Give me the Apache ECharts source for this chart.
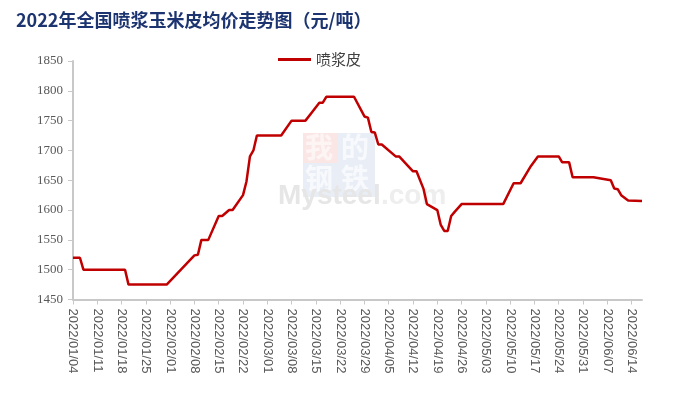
<!DOCTYPE html>
<html><head><meta charset="utf-8">
<script src="https://cdn.jsdelivr.net/npm/echarts@6/dist/echarts.min.js"></script>
<style>html,body{margin:0;padding:0;background:#fff}#c{width:700px;height:413px}</style>
</head><body><div id="c"></div>
<script>
// axis range (calendar days)
const startDate = [2022, 1, 4];
const endDate = [2022, 6, 17];
// observed price points (vertices of the line)
const pointDates = [
 '2022/01/04','2022/01/06','2022/01/07','2022/01/19','2022/01/20','2022/01/31',
 '2022/02/08','2022/02/09','2022/02/10','2022/02/12','2022/02/15','2022/02/16',
 '2022/02/18','2022/02/19','2022/02/22','2022/02/23','2022/02/24','2022/02/25',
 '2022/02/26','2022/03/05','2022/03/08','2022/03/12','2022/03/14','2022/03/16',
 '2022/03/17','2022/03/18','2022/03/26','2022/03/29','2022/03/30','2022/03/31',
 '2022/04/01','2022/04/02','2022/04/03','2022/04/07','2022/04/08','2022/04/12',
 '2022/04/13','2022/04/15','2022/04/16','2022/04/19','2022/04/20','2022/04/21',
 '2022/04/22','2022/04/23','2022/04/24','2022/04/26','2022/05/08','2022/05/11',
 '2022/05/13','2022/05/16','2022/05/18','2022/05/24','2022/05/25','2022/05/27',
 '2022/05/28','2022/06/03','2022/06/08','2022/06/09','2022/06/10','2022/06/11',
 '2022/06/13','2022/06/17'
];
const pointValues = [
 1520,1520,1500,1500,1475,1475,
 1524,1525,1550,1550,1590,1590,
 1600,1600,1625,1648,1690,1700,
 1725,1725,1750,1750,1765,1780,
 1780,1790,1790,1757,1755,1731,
 1730,1710,1710,1690,1690,1665,
 1665,1636,1610,1600,1575,1565,
 1565,1590,1597,1610,1610,1645,
 1645,1674,1690,1690,1680,1680,
 1655,1655,1650,1636,1635,1625,
 1616,1615
];
const seriesName = '喷浆皮';
const titleText = '2022年全国喷浆玉米皮均价走势图（元/吨）';
const yMin = 1450, yMax = 1850, yStep = 50;

function fmt(d){
  const m = String(d.getUTCMonth()+1).padStart(2,'0');
  const dd = String(d.getUTCDate()).padStart(2,'0');
  return d.getUTCFullYear()+'/'+m+'/'+dd;
}
const categories = [];
{
  let t = Date.UTC(startDate[0], startDate[1]-1, startDate[2]);
  const e = Date.UTC(endDate[0], endDate[1]-1, endDate[2]);
  for (; t <= e; t += 86400000) categories.push(fmt(new Date(t)));
}
const valueMap = {};
pointDates.forEach((d,i)=>{ valueMap[d] = pointValues[i]; });
const seriesData = categories.map(c => (c in valueMap) ? valueMap[c] : null);

const chart = echarts.init(document.getElementById('c'), null, {renderer:'canvas'});
chart.setOption({
  animation: false,
  backgroundColor: '#ffffff',
  title: {
    text: titleText, left: 11, top: 6,
    textStyle: {fontFamily: 'Noto Sans CJK SC', fontSize: 18, fontWeight: 'bold', color: '#1c3470'}
  },
  legend: {
    data: [seriesName], left: 273, top: 47,
    icon: 'rect', itemWidth: 33, itemHeight: 3,
    textStyle: {fontFamily: 'Noto Sans CJK SC', fontSize: 15, color: '#404040'}
  },
  grid: {left: 73, right: 58, top: 61, height: 238.5, containLabel: false},
  graphic: [
    {type:'rect', left:303, top:133, z:0, shape:{width:35, height:30}, style:{fill:'#fbe6e6'}},
    {type:'rect', left:338, top:133, z:0, shape:{width:37, height:30}, style:{fill:'#e9eef6'}},
    {type:'rect', left:303, top:163, z:0, shape:{width:35, height:34}, style:{fill:'#e9eef6'}},
    {type:'rect', left:338, top:163, z:0, shape:{width:37, height:34}, style:{fill:'#e9eef6'}},
    {type:'text', left:305, top:133, z:1, style:{text:'我', font:'bold 28px "Noto Sans CJK SC"', fill:'#fdf4f4'}},
    {type:'text', left:341, top:133, z:1, style:{text:'的', font:'bold 28px "Noto Sans CJK SC"', fill:'#f7f9fc'}},
    {type:'text', left:305, top:164, z:1, style:{text:'钢', font:'bold 28px "Noto Sans CJK SC"', fill:'#f7f9fc'}},
    {type:'text', left:341, top:164, z:1, style:{text:'铁', font:'bold 28px "Noto Sans CJK SC"', fill:'#f7f9fc'}},
    {type:'text', left:278, top:182, z:1, style:{text:'Mysteel', font:'bold 28px "Liberation Sans"', fill:'#e6e6e6'}},
    {type:'text', left:381, top:182, z:1, style:{text:'.com', font:'bold 28px "Liberation Sans"', fill:'#eeeeee'}}
  ],
  xAxis: {
    type: 'category', data: categories, boundaryGap: false,
    axisLine: {show: true, lineStyle: {color: '#c8c8c8', width: 2}},
    axisTick: {show: true, interval: 6, length: 5, lineStyle: {color: '#c8c8c8'}},
    axisLabel: {interval: 6, rotate: -90, margin: 9, fontFamily: 'Liberation Sans', fontSize: 13, color: '#595959'},
    splitLine: {show: false}
  },
  yAxis: {
    type: 'value', min: yMin, max: yMax, interval: yStep,
    axisLine: {show: true, lineStyle: {color: '#c8c8c8', width: 2}},
    axisTick: {show: true, length: 5, lineStyle: {color: '#c8c8c8'}},
    axisLabel: {margin: 10, fontFamily: 'Liberation Serif', fontSize: 13, color: '#595959',
      formatter: v => String(v)},
    splitLine: {show: false}
  },
  series: [{
    name: seriesName, type: 'line', data: seriesData, connectNulls: true,
    showSymbol: false, symbol: 'none', z: 5,
    lineStyle: {color: '#c00000', width: 2.5},
    itemStyle: {color: '#c00000'}
  }]
});
</script>
</body></html>
